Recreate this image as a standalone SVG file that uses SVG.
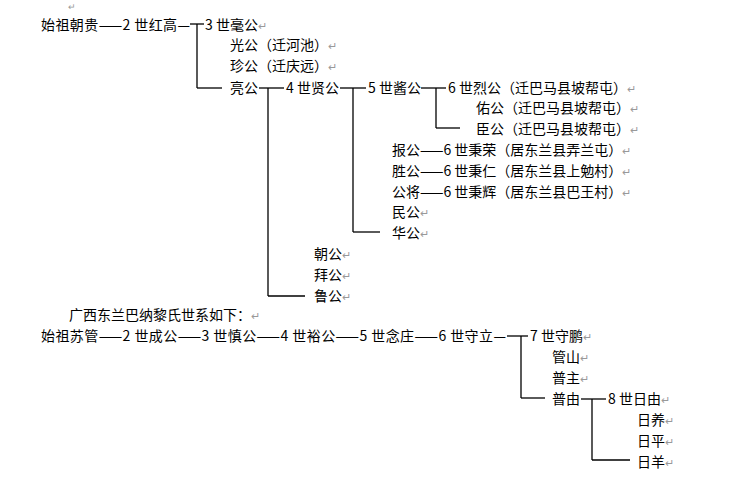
<svg xmlns="http://www.w3.org/2000/svg" width="746" height="481" viewBox="0 0 746 481">
<style>
text{font-family:"Noto Sans CJK SC","Liberation Sans",sans-serif;font-size:14px;fill:#000}
.m{fill:#999;font-size:11px}
#connectors line{stroke:#000;stroke-width:1.3}
</style>
<rect width="746" height="481" fill="#fff"/>
<g id="connectors">
<line x1="190" y1="24" x2="204" y2="24"/><line x1="197" y1="24" x2="197" y2="88"/><line x1="197" y1="88" x2="222" y2="88"/>
<line x1="259" y1="88" x2="284" y2="88"/><line x1="268" y1="88" x2="268" y2="296"/><line x1="268" y1="296" x2="305" y2="296"/>
<line x1="340" y1="88" x2="366" y2="88"/><line x1="353" y1="88" x2="353" y2="232"/><line x1="353" y1="232" x2="380" y2="232"/>
<line x1="421" y1="88" x2="446" y2="88"/><line x1="436" y1="88" x2="436" y2="128"/><line x1="436" y1="128" x2="460" y2="128"/>
<line x1="507" y1="336" x2="528" y2="336"/><line x1="521" y1="336" x2="521" y2="398"/><line x1="521" y1="398" x2="545" y2="398"/>
<line x1="581" y1="399" x2="606" y2="399"/><line x1="592" y1="399" x2="592" y2="460"/><line x1="592" y1="460" x2="630" y2="460"/>
</g>
<text class="m" x="68" y="10" style="font-size:9px">↵</text>
<g id="n1"><text x="41" y="30" textLength="149">始祖朝贵——2 世红高—</text></g>
<g id="n2"><text x="205" y="30">3 世毫公<tspan class="m">↵</tspan></text></g>
<g id="n3"><text x="230" y="50">光公（迁河池）<tspan class="m">↵</tspan></text></g>
<g id="n4"><text x="230" y="71">珍公（迁庆远）<tspan class="m">↵</tspan></text></g>
<g id="n5"><text x="230" y="93">亮公</text></g>
<g id="n6"><text x="286" y="93">4 世贤公</text></g>
<g id="n7"><text x="368" y="93">5 世酱公</text></g>
<g id="n8"><text x="448" y="93">6 世烈公（迁巴马县坡帮屯）<tspan class="m">↵</tspan></text></g>
<g id="n9"><text x="476" y="113">佑公（迁巴马县坡帮屯）<tspan class="m">↵</tspan></text></g>
<g id="n10"><text x="476" y="134">臣公（迁巴马县坡帮屯）<tspan class="m">↵</tspan></text></g>
<g id="n11"><text x="392" y="155">报公——6 世秉荣（居东兰县弄兰屯）<tspan class="m">↵</tspan></text></g>
<g id="n12"><text x="392" y="176">胜公——6 世秉仁（居东兰县上勉村）<tspan class="m">↵</tspan></text></g>
<g id="n13"><text x="392" y="197">公将——6 世秉辉（居东兰县巴王村）<tspan class="m">↵</tspan></text></g>
<g id="n14"><text x="392" y="217">民公<tspan class="m">↵</tspan></text></g>
<g id="n15"><text x="392" y="238">华公<tspan class="m">↵</tspan></text></g>
<g id="n16"><text x="314" y="259">朝公<tspan class="m">↵</tspan></text></g>
<g id="n17"><text x="314" y="280">拜公<tspan class="m">↵</tspan></text></g>
<g id="n18"><text x="314" y="301">鲁公<tspan class="m">↵</tspan></text></g>
<g id="title"><text x="69" y="320">广西东兰巴纳黎氏世系如下：<tspan class="m">↵</tspan></text></g>
<g id="m1"><text x="41" y="341" textLength="465">始祖苏管——2 世成公——3 世慎公——4 世裕公——5 世念庄——6 世守立—</text></g>
<g id="m2"><text x="530" y="341">7 世守鹏<tspan class="m">↵</tspan></text></g>
<g id="m3"><text x="552" y="362">管山<tspan class="m">↵</tspan></text></g>
<g id="m4"><text x="552" y="383">普主<tspan class="m">↵</tspan></text></g>
<g id="m5"><text x="552" y="404">普由</text></g>
<g id="m6"><text x="608" y="404">8 世日由<tspan class="m">↵</tspan></text></g>
<g id="m7"><text x="637" y="425">日养<tspan class="m">↵</tspan></text></g>
<g id="m8"><text x="637" y="446">日平<tspan class="m">↵</tspan></text></g>
<g id="m9"><text x="637" y="467">日羊<tspan class="m">↵</tspan></text></g>
</svg>
